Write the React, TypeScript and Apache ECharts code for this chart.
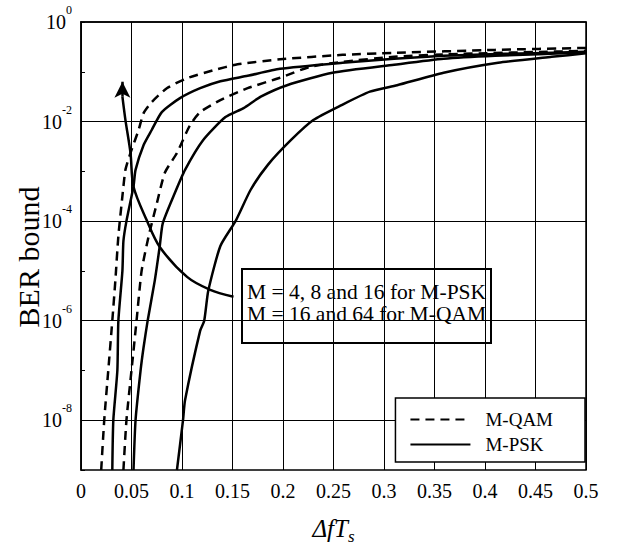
import React, { useEffect, useRef } from "react";
import * as echarts from "echarts";

// ---- data (x = Δf·Ts, y = log10(BER bound)) ----
const qam16X = [0.020, 0.023, 0.027, 0.031, 0.034, 0.037, 0.041, 0.044, 0.049, 0.057, 0.062, 0.070, 0.085, 0.105, 0.131, 0.155, 0.197, 0.259, 0.31, 0.41, 0.5];
const qam16LogBer = [-9, -8, -7, -6, -5.2, -4.3, -3.5, -2.97, -2.63, -2.17, -1.83, -1.61, -1.33, -1.13, -0.97, -0.85, -0.75, -0.66, -0.62, -0.56, -0.52];

const qam64X = [0.042, 0.045, 0.050, 0.055, 0.060, 0.067, 0.075, 0.083, 0.095, 0.108, 0.118, 0.138, 0.165, 0.197, 0.227, 0.259, 0.31, 0.359, 0.5];
const qam64LogBer = [-9, -8, -7, -6, -5, -4.3, -3.65, -3.03, -2.63, -2.07, -1.81, -1.57, -1.33, -1.12, -0.9, -0.8, -0.7, -0.65, -0.58];

const psk4X = [0.031, 0.032, 0.036, 0.037, 0.041, 0.042, 0.045, 0.052, 0.054, 0.062, 0.070, 0.080, 0.098, 0.118, 0.138, 0.165, 0.197, 0.259, 0.31, 0.359, 0.42, 0.5];
const psk4LogBer = [-9, -8, -7, -6, -5, -4.4, -4.0, -3.3, -2.97, -2.47, -2.17, -1.81, -1.53, -1.33, -1.19, -1.08, -0.94, -0.82, -0.74, -0.68, -0.64, -0.6];

const psk8X = [0.052, 0.054, 0.059, 0.062, 0.066, 0.073, 0.078, 0.081, 0.093, 0.103, 0.121, 0.143, 0.161, 0.178, 0.204, 0.249, 0.31, 0.359, 0.41, 0.5];
const psk8LogBer = [-9, -8, -7, -6.53, -6, -5.2, -4.5, -4.04, -3.43, -2.97, -2.37, -1.91, -1.73, -1.5, -1.27, -1.02, -0.86, -0.74, -0.68, -0.61];

const psk16X = [0.095, 0.101, 0.103, 0.118, 0.122, 0.126, 0.138, 0.153, 0.168, 0.185, 0.208, 0.230, 0.258, 0.286, 0.313, 0.359, 0.413, 0.466, 0.5];
const psk16LogBer = [-9, -8, -7.6, -6.2, -6, -5.4, -4.5, -4.0, -3.37, -2.87, -2.37, -1.97, -1.67, -1.4, -1.27, -1.02, -0.82, -0.70, -0.63];

// annotation arrow path (data coordinates)
const arrowX = [0.151, 0.128, 0.105, 0.078, 0.065, 0.052, 0.049, 0.044, 0.041, 0.041];
const arrowLogBer = [-5.52, -5.38, -5.12, -4.52, -3.98, -3.31, -2.63, -1.97, -1.5, -1.2];

const gridExponents = [-8, -6, -4, -2];
const legendNames = ["M-QAM", "M-PSK"];
const annotationLines = ["M = 4, 8 and 16 for M-PSK", "M = 16 and 64 for M-QAM"];

const FONT = "'Liberation Serif', 'Times New Roman', serif";

const pairs = (xs: number[], ys: number[]) => xs.map((x, i) => [x, ys[i]]);

export default function App() {
  const ref = useRef<HTMLDivElement>(null);
  useEffect(() => {
    const chart = echarts.init(ref.current!, null, { renderer: "svg" });
    const curve = (name: string, xs: number[], ys: number[], dashed: boolean) => ({
      type: "line",
      name,
      data: pairs(xs, ys),
      symbol: "none",
      showSymbol: false,
      smooth: 0.2,
      z: 4,
      lineStyle: { color: "#000", width: 2.5, type: dashed ? [9, 6] : "solid" },
      itemStyle: { color: "#000" },
    });
    const n = arrowX.length;
    chart.setOption({
      animation: false,
      backgroundColor: "#fff",
      textStyle: { fontFamily: FONT, color: "#000" },
      grid: {
        left: 81, right: 32, top: 22, bottom: 76,
        outerBoundsMode: "none",
        containLabel: false,
        show: true, borderColor: "#000", borderWidth: 1.5, backgroundColor: "transparent",
      },
      legend: {
        data: legendNames,
        orient: "vertical",
        right: 33,
        bottom: 84,
        selectedMode: false,
        backgroundColor: "#fff",
        borderColor: "#000",
        borderWidth: 1.5,
        borderRadius: 0,
        padding: [12, 32, 8, 14],
        itemWidth: 60,
        itemHeight: 14,
        itemGap: 6,
        itemStyle: { opacity: 0 },
        textStyle: { fontFamily: FONT, fontSize: 19, color: "#000", padding: [0, 0, 0, 10] },
        z: 20,
      },
      xAxis: {
        type: "value",
        min: 0,
        max: 0.5,
        interval: 0.05,
        axisLine: { show: true, lineStyle: { color: "#000", width: 1.5 } },
        axisTick: { show: false },
        splitLine: { show: true, lineStyle: { color: "#000", width: 1 } },
        axisLabel: { fontFamily: FONT, fontSize: 20, color: "#000", margin: 11 },
        name: "{i|ΔfT}{s|s}",
        nameLocation: "middle",
        nameGap: 41,
        nameTextStyle: {
          rich: {
            i: { fontFamily: FONT, fontStyle: "italic", fontSize: 25, lineHeight: 34, color: "#000" },
            s: { fontFamily: FONT, fontStyle: "italic", fontSize: 17, lineHeight: 17, verticalAlign: "bottom", color: "#000" },
          },
        },
      },
      yAxis: {
        type: "value",
        min: -9,
        max: 0,
        interval: 1,
        axisLine: { show: true, lineStyle: { color: "#000", width: 1.5 } },
        axisTick: { show: true, inside: true, length: 4, lineStyle: { color: "#000" } },
        splitLine: { show: false },
        axisLabel: {
          margin: 9,
          formatter: (v: number) => (Math.round(v) % 2 === 0 ? `{b|10}{s|${Math.round(v)}}` : ""),
          rich: {
            b: { fontFamily: FONT, fontSize: 20, lineHeight: 36, color: "#000" },
            s: { fontFamily: FONT, fontSize: 12, lineHeight: 12, verticalAlign: "top", color: "#000" },
          },
        },
        name: "BER bound",
        nameLocation: "middle",
        nameGap: 37,
        nameMoveOverlap: false,
        nameTextStyle: { fontFamily: FONT, fontSize: 30, lineHeight: 32, color: "#000", padding: [0, 22, 0, 0] },
      },
      series: [
        {
          type: "line",
          name: "grid",
          data: [],
          z: 1,
          markLine: {
            silent: true,
            symbol: ["none", "none"],
            label: { show: false },
            lineStyle: { color: "#000", width: 1, type: "solid" },
            data: gridExponents.map((v) => ({ yAxis: v })),
          },
        },
        curve("M-QAM", qam16X, qam16LogBer, true),
        curve("M-QAM", qam64X, qam64LogBer, true),
        curve("M-PSK", psk4X, psk4LogBer, false),
        curve("M-PSK", psk8X, psk8LogBer, false),
        curve("M-PSK", psk16X, psk16LogBer, false),
        {
          type: "line",
          name: "arrow",
          data: pairs(arrowX.slice(0, n - 1), arrowLogBer.slice(0, n - 1)),
          symbol: "none",
          smooth: 0.3,
          z: 5,
          lineStyle: { color: "#000", width: 2.5 },
          markLine: {
            silent: true,
            symbol: ["none", "arrow"],
            symbolSize: [12, 16],
            label: { show: false },
            lineStyle: { color: "#000", width: 2.5, type: "solid" },
            data: [[{ coord: [arrowX[n - 2], arrowLogBer[n - 2]] }, { coord: [arrowX[n - 1], arrowLogBer[n - 1]] }]],
          },
        },
      ],
      graphic: [
        {
          type: "group",
          left: 241,
          top: 268,
          z: 50,
          children: [
            { type: "rect", shape: { x: 0, y: 0, width: 249, height: 74 }, style: { fill: "#fff", stroke: "#000", lineWidth: 2 } },
            ...annotationLines.map((t, i) => ({
              type: "text",
              x: 5,
              y: 12 + i * 22,
              style: { text: t, font: `21.5px ${FONT}`, fill: "#000" },
            })),
          ],
        },
      ],
    });
    return () => chart.dispose();
  }, []);
  return <div ref={ref} style={{ position: "fixed", left: 0, top: 0, width: 618, height: 546 }} />;
}
